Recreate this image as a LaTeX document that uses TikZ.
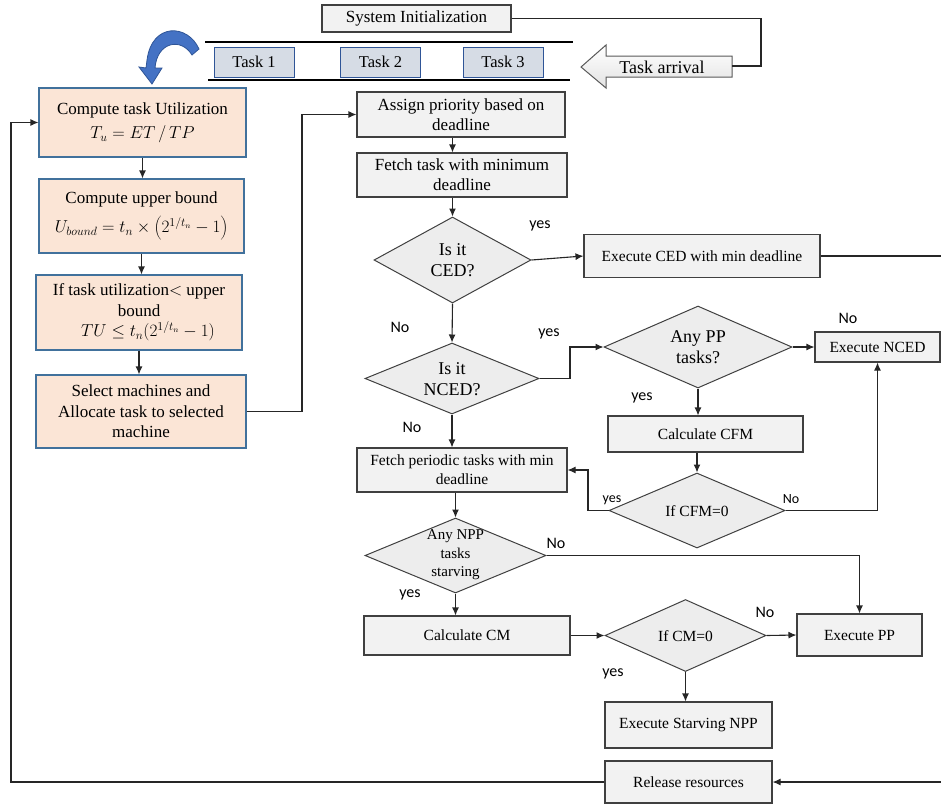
\documentclass[tikz,border=0pt]{standalone}
\usepackage{fontspec}
\setmainfont{Liberation Serif}
\newfontfamily\labfont{Carlito}
\usetikzlibrary{shapes.geometric,arrows.meta,calc}
\definecolor{peachfill}{HTML}{FBE5D6}
\definecolor{peachline}{HTML}{41719C}
\definecolor{taskfill}{HTML}{D6DCE5}
\definecolor{taskline}{HTML}{2F5597}
\definecolor{boxfill}{HTML}{F2F2F2}
\definecolor{diafill}{HTML}{EDEDED}
\definecolor{edgec}{HTML}{404040}
\definecolor{bluearrow}{HTML}{4472C4}
\begin{document}
\begin{tikzpicture}[x=1pt,y=-1pt,
  peach/.style={draw=peachline, fill=peachfill, line width=1.1pt, align=center, inner sep=1pt, font=\fontsize{17}{20.5}\selectfont},
  gbox/.style={draw=edgec, fill=boxfill, line width=1.1pt, align=center, inner sep=1pt, font=\fontsize{15.5}{19}\selectfont},
  gboxl/.style={gbox, font=\fontsize{17}{20}\selectfont},
  tbox/.style={draw=taskline, fill=taskfill, line width=1pt, font=\fontsize{16.5}{19}\selectfont, minimum width=80pt, minimum height=30pt},
  dia/.style={diamond, draw=edgec, fill=diafill, line width=1pt, inner sep=0pt},
  dtext/.style={align=center, font=\fontsize{18}{21}\selectfont, inner sep=0pt},
  conn/.style={draw=black!85, line width=1.1pt},
  arr/.style={conn, -{Latex[length=8pt,width=7pt]}},
  lab/.style={font=\labfont\fontsize{16}{18}\selectfont, inner sep=0pt},
  labs/.style={font=\labfont\fontsize{14}{16}\selectfont, inner sep=0pt}]
\useasboundingbox (0,0) rectangle (941,804);

% top area
\node[gbox, font=\fontsize{17}{20}\selectfont, minimum width=189pt, minimum height=27pt] (sysinit) at (416.5,18.5) {System Initialization};
\draw[line width=2.6pt] (205,42) -- (573,42);
\draw[line width=2.6pt] (208,80) -- (570,80);
\node[tbox] (task1) at (254,62) {Task 1};
\node[tbox] (task2) at (380.5,62) {Task 2};
\node[tbox] (task3) at (503,62) {Task 3};
\draw[draw=gray!70!black, line width=1pt, top color=white, bottom color=gray!22]
  (581,67) -- (606,45) -- (606,56) -- (732,56) -- (732,77) -- (606,77) -- (606,88) -- cycle;
\node[font=\fontsize{18}{20}\selectfont, inner sep=0pt] (arrival) at (662,67) {Task arrival};
\coordinate (arrowend) at (732,66);
\coordinate (jE) at (761,66);
\draw[conn] (sysinit.east) -| (jE) -- (arrowend);
\draw[draw=taskline, fill=bluearrow, line width=0.8pt]
  (199,49) .. controls (188,24) and (152,22) .. (147,60) -- (146,68) -- (139,67) -- (152,84) -- (162,68) -- (155,68)
  .. controls (157,42) and (181,37) .. (192,55) -- cycle;

% left column
\node[peach, minimum width=207pt, minimum height=69pt] (compute) at (142.5,122.5)
  {Compute task Utilization\\[4pt] $T_u = ET\,/\,TP$};
\node[peach, minimum width=205pt, minimum height=74pt] (upper) at (141.5,216)
  {Compute upper bound\\[9pt] $U_{bound} = t_n \times \left(2^{1/t_n} - 1\right)$};
\node[peach, minimum width=206pt, minimum height=75pt] (iftask) at (139,312.5)
  {If task utilization$<$ upper\\bound\\ \hspace*{18pt}$TU \le t_n(2^{1/t_n} - 1)$};
\node[peach, minimum width=210pt, minimum height=73pt] (select) at (141,411.5)
  {Select machines and\\Allocate task to selected\\machine};

% middle column
\node[gboxl, minimum width=208pt, minimum height=45pt] (assign) at (461,114.5) {Assign priority based on\\deadline};
\node[gboxl, minimum width=210pt, minimum height=44pt] (fetch) at (462,175) {Fetch task with minimum\\deadline};
\node[dia, minimum width=157pt, minimum height=86pt] (ced) at (452.5,260) {};
\node[dtext] (cedt) at (452.5,260) {Is it\\CED?};
\node[gbox, minimum width=236pt, minimum height=43pt] (execced) at (702,256) {Execute CED with min deadline};
\node[dia, minimum width=174pt, minimum height=71pt] (nced) at (452,378.5) {};
\node[dtext] (ncedt) at (452,379) {Is it\\NCED?};
\node[dia, minimum width=188pt, minimum height=82pt] (anypp) at (698,347) {};
\node[dtext] (anyppt) at (698,347) {Any PP\\tasks?};
\node[gbox, minimum width=125pt, minimum height=30pt] (execnced) at (877.5,347) {Execute NCED};
\node[gbox, minimum width=195pt, minimum height=36pt] (cfm) at (705.5,434) {Calculate CFM};
\node[dia, minimum width=176pt, minimum height=75pt] (ifcfm) at (697,510.5) {};
\node[dtext, font=\fontsize{15.5}{18}\selectfont] (ifcfmt) at (697,511) {If CFM=0};
\node[gbox, minimum width=210pt, minimum height=44pt] (fetchper) at (462,470) {Fetch periodic tasks with min\\deadline};
\node[dia, minimum width=181pt, minimum height=75pt] (npp) at (455.5,555.5) {};
\node[dtext, font=\fontsize{15}{18.5}\selectfont] (nppt) at (455.5,555) {Any NPP\\tasks\\starving};
\node[gbox, minimum width=206pt, minimum height=39pt] (cm) at (467,635.5) {Calculate CM};
\node[dia, minimum width=161pt, minimum height=72pt] (ifcm) at (685.5,635.5) {};
\node[dtext, font=\fontsize{15.5}{18}\selectfont] (ifcmt) at (685.5,636) {If CM=0};
\node[gbox, minimum width=125pt, minimum height=42pt] (execpp) at (859.5,635) {Execute PP};
\node[gbox, minimum width=167pt, minimum height=46pt] (starving) at (688.5,725) {Execute Starving NPP};
\node[gbox, minimum width=167pt, minimum height=42pt] (release) at (688.5,782) {Release resources};

% helper coordinates
\coordinate (jA) at (302,114.5);
\coordinate (jB) at (570,378.5);
\coordinate (jC) at (588,470);
\coordinate (jD) at (11,782);
\coordinate (edgeA) at (941,256);
\coordinate (edgeB) at (941,782);

% connectors
\draw[arr] (compute.south) -- (compute.south |- upper.north);
\draw[arr] (upper.south) -- (upper.south |- iftask.north);
\draw[arr] (iftask.south) -- (iftask.south |- select.north);
\draw[arr] (select.east) -| (jA) -- (assign.west);
\draw[arr] (assign.south -| ced.north) -- (fetch.north -| ced.north);
\draw[arr] (fetch.south -| ced.north) -- (ced.north);
\draw[arr] (ced.east) -- (execced.west);
\draw[conn] (execced.east) -- (edgeA);
\draw[arr] (ced.south) -- (nced.north);
\draw[arr] (nced.east) -- (jB) |- (anypp.west);
\draw[arr] (anypp.east) -- (execnced.west);
\draw[arr] (anypp.south) -- (anypp.south |- cfm.north);
\draw[arr] (cfm.south -| ifcfm.north) -- (ifcfm.north);
\draw[arr] (ifcfm.west) -| (jC) -- (fetchper.east);
\draw[arr] (ifcfm.east) -| (execnced.south);
\draw[arr] (nced.south) -- (nced.south |- fetchper.north);
\draw[arr] (fetchper.south -| npp.north) -- (npp.north);
\draw[arr] (npp.east) -| (execpp.north);
\draw[arr] (npp.south) -- (npp.south |- cm.north);
\draw[arr] (cm.east) -- (ifcm.west);
\draw[arr] (ifcm.east) -- (execpp.west);
\draw[arr] (ifcm.south) -- (ifcm.south |- starving.north);
\draw[arr] (edgeB) -- (release.east);
\draw[arr] (release.west) -- (jD) |- (compute.west);

% labels
\node[lab] (l1) at (540,226) {yes};
\node[lab] (l2) at (400,327) {No};
\node[lab] (l3) at (549,334) {yes};
\node[lab] (l4) at (848,318) {No};
\node[lab] (l5) at (642,398) {yes};
\node[lab] (l6) at (412,427) {No};
\node[labs] (l7) at (612,500) {yes};
\node[labs] (l8) at (791,499) {No};
\node[lab] (l9) at (556,543) {No};
\node[lab] (l10) at (410,595) {yes};
\node[lab] (l11) at (765,612) {No};
\node[lab] (l12) at (613,674) {yes};
\end{tikzpicture}
\end{document}
